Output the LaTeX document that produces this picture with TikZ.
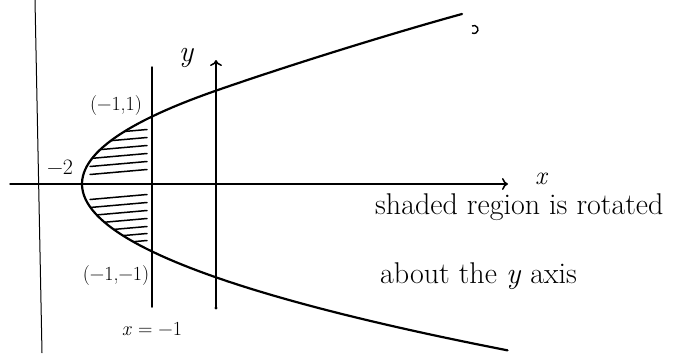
\documentclass[tikz,border=0pt]{standalone}
\usepackage{tikz}
\usetikzlibrary{arrows.meta}
\begin{document}
\begin{tikzpicture}[x=1pt,y=-1pt,
  axisline/.style={line width=1.5pt,line cap=round},
  curve/.style={line width=2.2pt,line cap=round},
  hatch/.style={line width=1.5pt,line cap=round},
  lbl/.style={inner sep=0pt,font=\fontsize{20}{22}\selectfont},
  big/.style={inner sep=0pt,font=\fontsize{30}{32}\selectfont\itshape},
  note/.style={inner sep=0pt,anchor=base west,font=\fontsize{30}{32}\selectfont},
  tip/.style={-{To[length=6pt,width=12pt,line width=1.5pt]}}]
\useasboundingbox (0,0) rectangle (676,353);
% coordinates
\coordinate (bL1) at (35,0);
\coordinate (bL2) at (42,353);
\coordinate (xa) at (10,184);
\coordinate (xb) at (508,184);
\coordinate (ya) at (216,308);
\coordinate (yb) at (216,60);
\coordinate (la) at (152,67);
\coordinate (lb) at (152,307);
% left border line
\draw[line width=1pt] (bL1) -- (bL2);
% hatching of the region
\begin{scope}
  \clip (0,0) rectangle (151,353);
  \clip plot[domain=-1.1:1.1,samples=40,smooth] ({216+67*(\x*\x-2)},{184-66*\x}) -- cycle;
  \foreach \yy in {132,140,148,156,164,172,197,205,213,221,229,236,243}
    \draw[hatch] (90,\yy+2.5) -- (147,\yy-2.5);
\end{scope}
% axes
\draw[axisline,tip] (xa) -- (xb);
\draw[axisline,tip] (ya) -- (yb);
\fill (ya) circle (1.6pt);
% line x = -1
\draw[axisline] (la) -- (lb);
% parabola
\draw[curve] plot[domain=-2.52:1.414,samples=80] ({216+67*(\x*\x-2)},{184-66*\x})
  .. controls (296,62.8) and (400,31) .. (462,14);
% small mark near the top end
\draw[line width=1.4pt] (472,26) arc[start angle=120,end angle=-120,radius=4pt];
% labels
\node[big] (ylab) at (186,58) {y};
\node[big,font=\fontsize{26}{28}\selectfont\itshape] (xlab) at (541,179) {x};
\node[lbl,font=\fontsize{22}{24}\selectfont] (m2) at (60,167) {−2};
\node[lbl] (p1) at (116,106) {(−1,1)};
\node[lbl] (p2) at (116,276) {(−1,−1)};
\node[lbl] (xeq) at (152,329) {\textit{x} = −1};
\node[note] (t1) at (375,214) {shaded region is rotated};
\node[note] (t2) at (380,283) {about the \textit{y} axis};
\end{tikzpicture}
\end{document}
